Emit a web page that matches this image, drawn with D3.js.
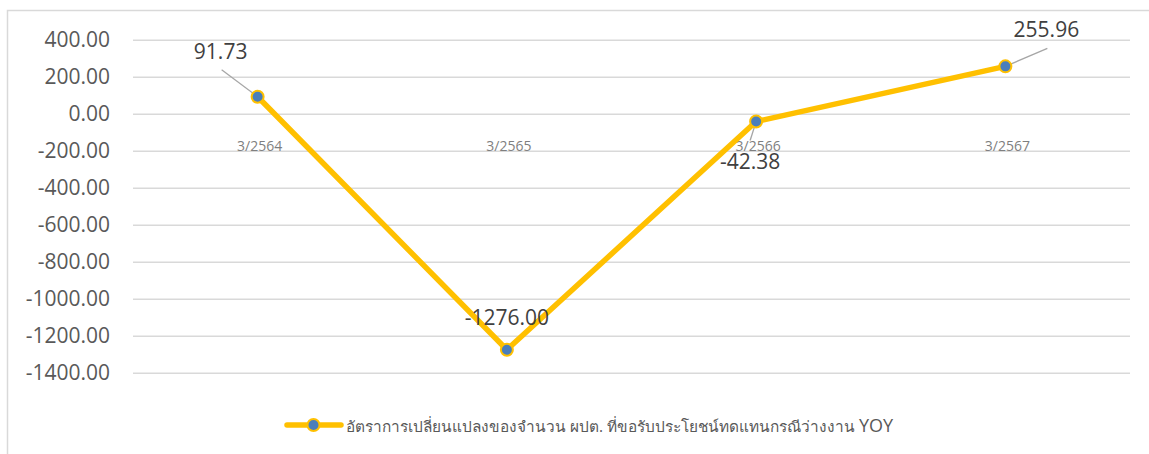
<!DOCTYPE html>
<html>
<head>
<meta charset="utf-8">
<script src="https://cdn.jsdelivr.net/npm/d3@7"></script>
<style>
  body { margin: 0; background: #fff; }
  #chart { width: 1149px; height: 454px; }
  text { font-family: "Open Sans", "Noto Sans", sans-serif; }
</style>
</head>
<body>
<div id="chart"></div>
<script>
// data
const categories = ["3/2564", "3/2565", "3/2566", "3/2567"];
const values = [91.73, -1276.00, -42.38, 255.96];
const yTicks = [400, 200, 0, -200, -400, -600, -800, -1000, -1200, -1400];
const seriesName = "อัตราการเปลี่ยนแปลงของจำนวน ผปต. ที่ขอรับประโยชน์ทดแทนกรณีว่างงาน";
const seriesSuffix = "YOY";

const width = 1149;
const height = 454;
const margin = {top: 40, left: 133, right: 19, bottom: 82};

// plain hyphen instead of d3's unicode minus, like Excel
const fmt = function(d){ return d3.format(".2f")(d).replace("\u2212", "-"); };

const svg = d3.select("#chart")
    .append("svg")
    .attr("width", width)
    .attr("height", height);

// chart frame (cut off at right and bottom)
svg.append("rect")
    .attr("x", 7.5)
    .attr("y", 10.5)
    .attr("width", width + 10)
    .attr("height", height + 10)
    .attr("fill", "none")
    .attr("stroke", "#d9d9d9")
    .attr("stroke-width", 1.5);

/*
SCALES
*/
const xScale = d3.scaleBand()
    .domain(categories)
    .range([margin.left, width - margin.right]);

const yScale = d3.scaleLinear()
    .domain([-1400, 400])
    .range([372.7, 39.7]);

const xPos = function(d){ return xScale(d) + xScale.bandwidth()/2; };

/*
GRID + AXES
*/
const yAxis = svg.append("g")
    .attr("transform", `translate(${margin.left},0)`)
    .call(d3.axisLeft(yScale)
        .tickValues(yTicks)
        .tickSize(-(width - margin.left - margin.right))
        .tickPadding(23)
        .tickFormat(fmt));

yAxis.select(".domain").remove();
yAxis.selectAll("line")
    .attr("stroke", "#d9d9d9")
    .attr("stroke-width", 1.5);
yAxis.selectAll("text")
    .attr("fill", "#595959")
    .style("font-size", "21px")
    .style("font-family", "'Open Sans', sans-serif");

// category labels sit just below the zero line
svg.append("g")
    .selectAll("text")
    .data(categories)
    .enter()
    .append("text")
    .attr("x", function(d){ return xPos(d) + 2; })
    .attr("y", yScale(0) + 37)
    .attr("text-anchor", "middle")
    .attr("fill", "#7f7f7f")
    .style("font-size", "14px")
    .text(function(d){ return d; });

/*
LINE + MARKERS
*/
const line = d3.line()
    .x(function(d, i){ return xPos(categories[i]); })
    .y(function(d){ return yScale(d); });

svg.append("path")
    .datum(values)
    .attr("d", line)
    .attr("fill", "none")
    .attr("stroke", "#ffc000")
    .attr("stroke-width", 5.5)
    .attr("stroke-linejoin", "round")
    .attr("stroke-linecap", "round");

// data labels with leader lines (offsets in px from the point)
const labelOffsets = [
    {dx: -37, dy: -38, lx: -36, ly: -27},
    {dx: 0, dy: -25, lx: null, ly: null},
    {dx: -6, dy: 47, lx: -6, ly: 19},
    {dx: 41, dy: -29, lx: 42, ly: -18}
];

svg.append("g")
    .selectAll("line")
    .data(values)
    .enter()
    .filter(function(d, i){ return labelOffsets[i].lx !== null; })
    .append("line")
    .attr("x1", function(d){ const i = values.indexOf(d); return xPos(categories[i]) + labelOffsets[i].lx; })
    .attr("y1", function(d){ const i = values.indexOf(d); return yScale(d) + labelOffsets[i].ly; })
    .attr("x2", function(d){ return xPos(categories[values.indexOf(d)]); })
    .attr("y2", function(d){ return yScale(d); })
    .attr("stroke", "#a6a6a6")
    .attr("stroke-width", 1.3);

svg.append("g")
    .selectAll("circle")
    .data(values)
    .enter()
    .append("circle")
    .attr("cx", function(d, i){ return xPos(categories[i]); })
    .attr("cy", function(d){ return yScale(d); })
    .attr("r", 6)
    .attr("fill", "#4a7ebb")
    .attr("stroke", "#ffc000")
    .attr("stroke-width", 2);

svg.append("g")
    .selectAll("text")
    .data(values)
    .enter()
    .append("text")
    .attr("x", function(d, i){ return xPos(categories[i]) + labelOffsets[i].dx; })
    .attr("y", function(d, i){ return yScale(d) + labelOffsets[i].dy; })
    .attr("text-anchor", "middle")
    .attr("fill", "#404040")
    .style("font-size", "21px")
    .text(fmt);

/*
LEGEND
*/
const legY = 425;
svg.append("line")
    .attr("x1", 287)
    .attr("x2", 341)
    .attr("y1", legY)
    .attr("y2", legY)
    .attr("stroke", "#ffc000")
    .attr("stroke-width", 5.5)
    .attr("stroke-linecap", "round");

svg.append("circle")
    .attr("cx", 313.5)
    .attr("cy", legY)
    .attr("r", 6)
    .attr("fill", "#4a7ebb")
    .attr("stroke", "#ffc000")
    .attr("stroke-width", 2);

const legText = svg.append("text")
    .attr("x", 346)
    .attr("y", legY + 7)
    .attr("fill", "#595959")
    .style("font-size", "15.4px");

legText.append("tspan").text(seriesName + " ");
legText.append("tspan")
    .style("font-size", "18px")
    .text(seriesSuffix);
</script>
</body>
</html>
